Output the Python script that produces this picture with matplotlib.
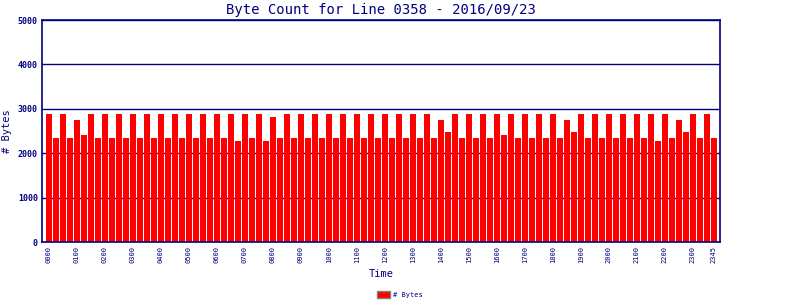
import matplotlib
matplotlib.use('Agg')
import matplotlib.pyplot as plt

# byte counts per 15 minute slot, 0000 .. 2345
T, S = 2885, 2345
byte_counts = [T, S, T, S, 2750, 2415, T, S, T, S,
               T, S, T, S, T, S, T, S, T, S,
               T, S, T, S, T, S, T, 2280, T, S,
               T, 2280, 2820, S, T, S, T, S, T, S,
               T, S, T, S, T, S, T, S, T, S,
               T, S, T, S, T, S, 2750, 2480, T, S,
               T, S, T, S, T, 2415, T, S, T, S,
               T, S, T, S, 2750, 2480, T, S, T, S,
               T, S, T, S, T, S, T, 2280, T, S,
               2750, 2480, T, S, T, S]
slots = [f'{(i * 15) // 60:02d}{(i * 15) % 60:02d}' for i in range(96)]
tick_idx = list(range(0, 96, 4)) + [95]
y_ticks = [0, 1000, 2000, 3000, 4000, 5000]

navy = '#000080'
mono = 'DejaVu Sans Mono'

fig = plt.figure(figsize=(8, 3), dpi=100)
ax = fig.add_axes([42 / 800, 1 - 242 / 300, 678 / 800, 222 / 300])

ax.bar(range(len(byte_counts)), byte_counts, width=0.86, color='#ff0000',
       label='# Bytes', zorder=2)
ax.set_xlim(-1.0, 95.86)
ax.set_ylim(0, 5000)

ax.set_yticks(y_ticks)
ax.set_yticklabels([str(v) for v in y_ticks], fontsize=6, family=mono,
                   color=navy, fontweight='bold')
ax.set_xticks(tick_idx)
ax.set_xticklabels([slots[i] for i in tick_idx], rotation=90, fontsize=5,
                   family=mono, color=navy)
ax.tick_params(length=0, pad=3)
ax.grid(axis='y', color=navy, linewidth=1, zorder=1)
for s in ax.spines.values():
    s.set_color(navy)
    s.set_linewidth(1.2)

ax.set_title('Byte Count for Line 0358 - 2016/09/23', fontsize=10,
             family=mono, color=navy, pad=4)
ax.set_ylabel('# Bytes', fontsize=7.5, family=mono, color=navy, labelpad=4)
ax.set_xlabel('Time', fontsize=7.5, family=mono, color=navy, labelpad=4)

leg = fig.legend(loc='lower center', bbox_to_anchor=(0.5, -0.015), frameon=False,
                 prop={'family': mono, 'size': 5}, handlelength=1.9,
                 handleheight=1.3, handletextpad=0.4)
for h in leg.legend_handles:
    h.set_edgecolor('#808080')
for t in leg.get_texts():
    t.set_color(navy)

plt.savefig('out.png', dpi=100)
